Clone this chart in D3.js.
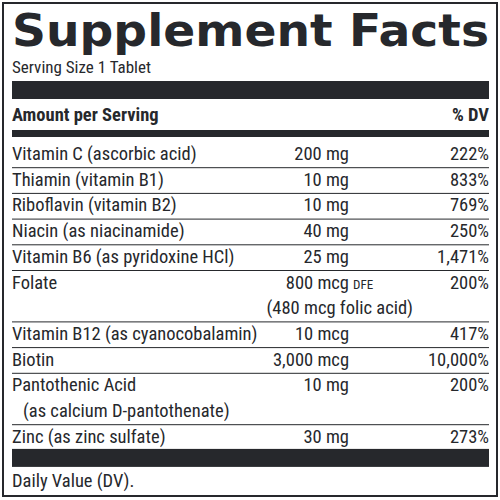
<!DOCTYPE html>
<html><head><meta charset="utf-8">
<script src="https://cdn.jsdelivr.net/npm/d3@7"></script>
<style>body{margin:0;background:#fff}text{font-family:"Liberation Sans Narrow","Roboto Condensed","Liberation Sans",sans-serif;fill:#26282c}</style>
</head><body><svg id="chart" width="500" height="500"></svg>
<script>
const nutrients = ["Vitamin C (ascorbic acid)", "Thiamin (vitamin B1)", "Riboflavin (vitamin B2)", "Niacin (as niacinamide)", "Vitamin B6 (as pyridoxine HCl)", "Folate", "Vitamin B12 (as cyanocobalamin)", "Biotin", "Pantothenic Acid", "Zinc (as zinc sulfate)"];
const subLabels = ["", "", "", "", "", "", "", "", "(as calcium D-pantothenate)", ""];
const amounts = ["200 mg", "10 mg", "10 mg", "40 mg", "25 mg", "800 mcg", "10 mcg", "3,000 mcg", "10 mg", "30 mg"];
const amountNotes = ["", "", "", "", "", "(480 mcg folic acid)", "", "", "", ""];
const dvs = ["222%", "833%", "769%", "250%", "1,471%", "200%", "417%", "10,000%", "200%", "273%"];
const lineCounts = [1, 1, 1, 1, 1, 2, 1, 1, 2, 1];

const dark = "#26282c";
const svg = d3.select("#chart");
const left = 12, right = 489, rowH = 25.7, fs = 18.5;

svg.append("rect").attr("x", 3).attr("y", 3).attr("width", 494).attr("height", 493)
  .attr("fill", "none").attr("stroke", dark).attr("stroke-width", 2);

svg.append("text").attr("x", left).attr("y", 46).attr("textLength", right - left)
  .attr("lengthAdjust", "spacingAndGlyphs")
  .style("font-family", "'DejaVu Sans',sans-serif").style("font-weight", 900)
  .style("font-size", "45px").text("Supplement Facts");
svg.append("text").attr("x", left).attr("y", 73).style("font-size", "17px").text("Serving Size 1 Tablet");
svg.append("rect").attr("x", left).attr("y", 81).attr("width", right - left).attr("height", 18).attr("fill", dark);
svg.append("text").attr("x", left).attr("y", 121).style("font-size", fs + "px").style("font-weight", "bold").text("Amount per Serving");
svg.append("text").attr("x", right).attr("y", 121).attr("text-anchor", "end").style("font-size", fs + "px").style("font-weight", "bold").text("% DV");
svg.append("rect").attr("x", left).attr("y", 130).attr("width", right - left).attr("height", 7).attr("fill", dark);

// cumulative row positions
const starts = [];
let acc = 0;
lineCounts.forEach((n) => { starts.push(acc); acc += n; });
const y = d3.scaleLinear().domain([0, acc]).range([141, 141 + acc * rowH]);

const rows = svg.selectAll(".row").data(nutrients.map((d, i) => ({ i, name: d })))
  .join("g").attr("class", "row")
  .attr("transform", (d) => `translate(0,${y(starts[d.i])})`);

rows.append("text").attr("x", left).attr("y", 19).style("font-size", fs + "px").text((d) => d.name);
rows.append("text").attr("x", left + 11).attr("y", 19 + rowH).style("font-size", fs + "px").text((d) => subLabels[d.i]);
rows.append("text").attr("x", 349).attr("y", 19).attr("text-anchor", "end").style("font-size", fs + "px").text((d) => amounts[d.i]);
rows.filter((d) => d.name === "Folate").append("text").attr("x", 353).attr("y", 19)
  .style("font-size", "13px").text("DFE");
rows.append("text").attr("x", 413).attr("y", 19 + rowH).attr("text-anchor", "end").style("font-size", fs + "px").text((d) => amountNotes[d.i]);
rows.append("text").attr("x", right).attr("y", 19).attr("text-anchor", "end").style("font-size", fs + "px").text((d) => dvs[d.i]);
rows.filter((d) => d.i < nutrients.length - 1).append("line")
  .attr("x1", left).attr("x2", right)
  .attr("y1", (d) => lineCounts[d.i] * rowH + 1).attr("y2", (d) => lineCounts[d.i] * rowH + 1)
  .attr("stroke", dark).attr("stroke-width", 1);

const endY = y(acc);
svg.append("rect").attr("x", left).attr("y", endY - 0.5).attr("width", right - left).attr("height", 18).attr("fill", dark);
svg.append("text").attr("x", left).attr("y", endY + 38).style("font-size", fs + "px").text("Daily Value (DV).");
</script></body></html>
